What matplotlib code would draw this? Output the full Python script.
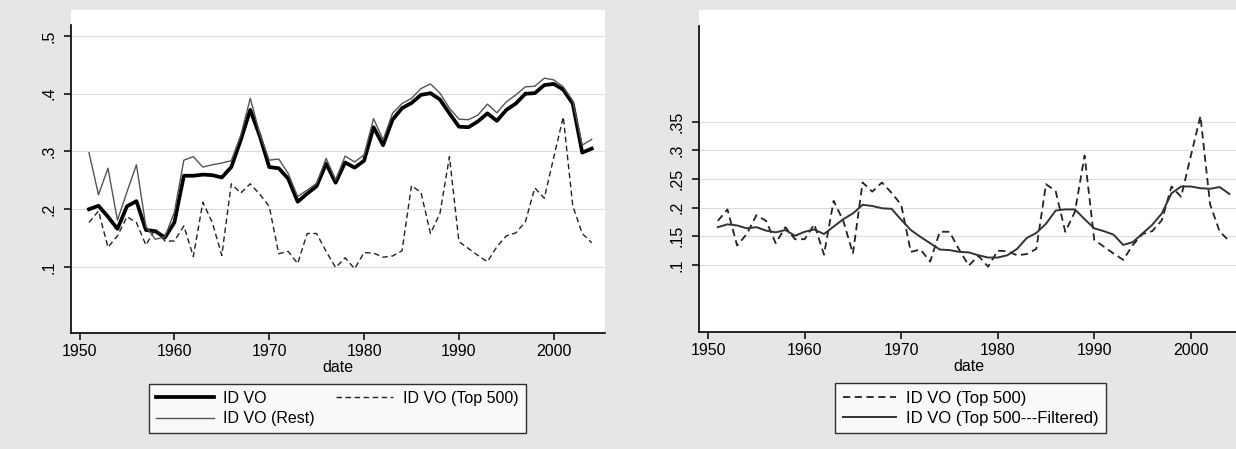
import numpy as np
import matplotlib
matplotlib.use("Agg")
import matplotlib.pyplot as plt

plt.rcParams['font.family'] = ['Liberation Sans', 'DejaVu Sans']

years = list(range(1951, 2005))

id_vo = [0.200, 0.206, 0.187, 0.166, 0.205, 0.214, 0.164, 0.162, 0.151, 0.177,
         0.258, 0.258, 0.260, 0.259, 0.255, 0.273, 0.320, 0.372, 0.327, 0.273,
         0.271, 0.253, 0.213, 0.227, 0.240, 0.279, 0.246, 0.281, 0.272, 0.284,
         0.342, 0.311, 0.355, 0.375, 0.384, 0.398, 0.401, 0.390, 0.366, 0.343,
         0.342, 0.352, 0.366, 0.353, 0.372, 0.383, 0.400, 0.401, 0.415, 0.417,
         0.407, 0.383, 0.298, 0.305]

id_vo_rest = [0.298, 0.225, 0.271, 0.181, 0.230, 0.277, 0.170, 0.148, 0.152, 0.195,
              0.285, 0.291, 0.273, 0.277, 0.280, 0.284, 0.328, 0.392, 0.331, 0.285,
              0.287, 0.262, 0.222, 0.233, 0.245, 0.288, 0.251, 0.292, 0.282, 0.294,
              0.357, 0.320, 0.366, 0.383, 0.392, 0.409, 0.417, 0.401, 0.375, 0.356,
              0.355, 0.363, 0.382, 0.367, 0.386, 0.398, 0.412, 0.413, 0.427, 0.424,
              0.412, 0.388, 0.311, 0.321]

id_vo_top500 = [0.177, 0.197, 0.134, 0.154, 0.187, 0.177, 0.138, 0.166, 0.145, 0.145,
                0.171, 0.118, 0.212, 0.177, 0.120, 0.244, 0.228, 0.244, 0.226, 0.205,
                0.123, 0.127, 0.106, 0.158, 0.158, 0.127, 0.099, 0.116, 0.097, 0.125,
                0.124, 0.117, 0.119, 0.128, 0.241, 0.229, 0.158, 0.193, 0.291, 0.144,
                0.132, 0.120, 0.109, 0.135, 0.154, 0.159, 0.178, 0.237, 0.219, 0.290,
                0.360, 0.206, 0.158, 0.142]

id_vo_top500_filtered = [0.166, 0.171, 0.169, 0.164, 0.166, 0.160, 0.157, 0.161, 0.151, 0.158,
                         0.162, 0.154, 0.167, 0.180, 0.190, 0.205, 0.203, 0.199, 0.198, 0.179,
                         0.161, 0.149, 0.138, 0.127, 0.126, 0.123, 0.122, 0.117, 0.113, 0.113,
                         0.117, 0.128, 0.147, 0.156, 0.172, 0.195, 0.197, 0.197, 0.180, 0.164,
                         0.159, 0.153, 0.135, 0.140, 0.155, 0.170, 0.190, 0.225, 0.237, 0.237,
                         0.234, 0.233, 0.236, 0.224]

x_ticks = [1950, 1960, 1970, 1980, 1990, 2000]
left_yticks = [0.1, 0.2, 0.3, 0.4, 0.5]
left_ylabels = ['.1', '.2', '.3', '.4', '.5']
right_yticks = [0.1, 0.15, 0.2, 0.25, 0.3, 0.35]
right_ylabels = ['.1', '.15', '.2', '.25', '.3', '.35']

W, H = 1236, 449
fig = plt.figure(figsize=(W / 100, H / 100), dpi=100, facecolor='#e6e6e6')

def px_axes(x0, x1, ytop, ybot):
    return fig.add_axes([x0 / W, 1 - ybot / H, (x1 - x0) / W, (ybot - ytop) / H])

FS = 11.5

def style(ax, yticks, ylabels, ymax_spine):
    ax.set_facecolor('white')
    for s in ['top', 'right']:
        ax.spines[s].set_visible(False)
    ax.spines['left'].set_linewidth(1.2)
    ax.spines['bottom'].set_linewidth(1.2)
    ax.set_xticks(x_ticks)
    ax.set_xticklabels([str(t) for t in x_ticks], fontsize=FS)
    ax.set_yticks(yticks)
    ax.set_yticklabels(ylabels, fontsize=FS, rotation=90, va='center')
    ax.tick_params(direction='out', length=5, width=1.1, color='black', pad=3)
    ax.tick_params(axis='y', pad=5)
    ax.grid(axis='y', color='#dcdcdc', linewidth=0.8)
    ax.set_axisbelow(True)
    ax.spines['left'].set_bounds(ax.get_ylim()[0], ymax_spine)
    ax.set_xlabel('date', fontsize=FS, labelpad=1)

# Left panel
axL = px_axes(70.6, 605, 10, 333)
axL.set_xlim(1949.06, 2005.4)
axL.set_ylim(-0.0143, 0.545)
lL1, = axL.plot(years, id_vo, color='black', linewidth=2.7, solid_joinstyle='round')
lL2, = axL.plot(years, id_vo_top500, color='#222222', linewidth=1.0, linestyle=(0, (4, 2.5)))
lL3, = axL.plot(years, id_vo_rest, color='#555555', linewidth=1.0)
style(axL, left_yticks, left_ylabels, 0.519)

legL = fig.legend([lL1, lL3, lL2], ['ID VO', 'ID VO (Rest)', 'ID VO (Top 500)'],
                  ncol=2, loc='center',
                  bbox_to_anchor=(337.5 / W, 1 - 408.5 / H),
                  fontsize=11.5, frameon=True, fancybox=False, edgecolor='black',
                  handlelength=3.6, handletextpad=0.6, borderaxespad=0,
                  labelspacing=0.35, borderpad=0.45, columnspacing=1.3)
legL.get_frame().set_linewidth(1.0)
legL.get_frame().set_facecolor('white')

# Right panel
axR = px_axes(698.5, 1240, 10, 331.7)
axR.set_xlim(1949.0, 2005.1)
axR.set_ylim(-0.0164, 0.545)
lR1, = axR.plot(years, id_vo_top500, color='#222222', linewidth=1.3, linestyle=(0, (4, 2.5)))
lR2, = axR.plot(years, id_vo_top500_filtered, color='#333333', linewidth=1.4)
style(axR, right_yticks, right_ylabels, 0.517)

legR = fig.legend([lR1, lR2], ['ID VO (Top 500)', 'ID VO (Top 500---Filtered)'],
                  ncol=1, loc='center',
                  bbox_to_anchor=(970.5 / W, 1 - 408 / H),
                  fontsize=12, frameon=True, fancybox=False, edgecolor='black',
                  handlelength=3.2, handletextpad=0.6, borderaxespad=0,
                  labelspacing=0.3, borderpad=0.45)
legR.get_frame().set_linewidth(1.0)
legR.get_frame().set_facecolor('white')

fig.savefig('out.png', dpi=100, facecolor=fig.get_facecolor())
